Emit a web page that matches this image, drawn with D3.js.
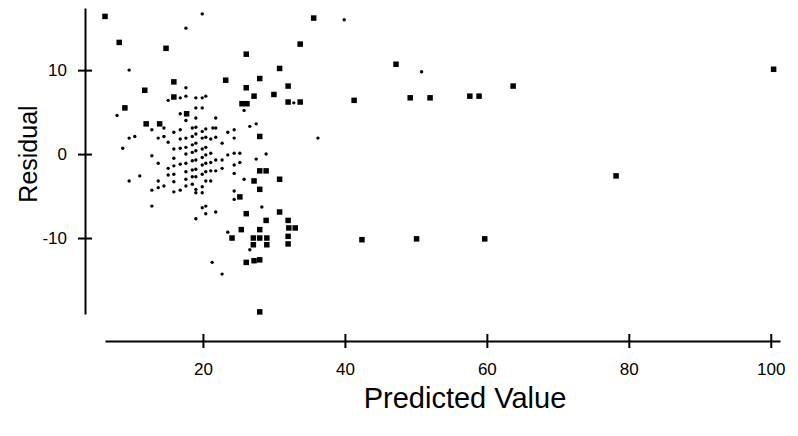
<!DOCTYPE html>
<html lang="en">
<head>
    <meta charset="UTF-8">
    <title>Residual vs Predicted Value - D3.js</title>
    <script src="https://d3js.org/d3.v7.min.js"></script>
    <style>
        body { margin: 0; background: #fff; }
        svg { font-family: "Liberation Sans", Arial, sans-serif; }
        .axis path, .axis line { stroke: #000; stroke-width: 2px; }
        .axis text { font-size: 17px; fill: #000; }
        .title { fill: #000; }
    </style>
</head>
<body>
<svg width="798" height="436"></svg>
<script>
    const width = 798;
    const height = 436;

    // tick labels
    const xTicks = [20, 40, 60, 80, 100];
    const yTicks = [-10, 0, 10];

    // large square markers [predicted, residual]
    const squarePoints = [
        [6.2, 16.4], [8.2, 13.3], [14.8, 12.6], [26.1, 11.9], [30.8, 10.2],
        [23.2, 8.8], [28.0, 9.0], [15.9, 8.6], [32.0, 8.1], [26.1, 7.9],
        [11.8, 7.6], [27.2, 6.9], [30.0, 7.1], [32.0, 6.2], [15.9, 6.8],
        [25.5, 6.0], [26.2, 6.0], [9.0, 5.5], [17.7, 4.8], [12.0, 3.6],
        [13.9, 3.6], [28.0, 2.1], [35.6, 16.2], [33.7, 13.1], [33.7, 6.2],
        [41.3, 6.4], [47.2, 10.7], [49.2, 6.7], [52.0, 6.7], [57.6, 6.9],
        [58.9, 6.9], [63.7, 8.1], [100.4, 10.1], [78.2, -2.6], [28.0, -2.0],
        [28.9, -2.0], [30.8, -3.0], [27.2, -3.2], [28.0, -4.2], [25.2, -5.1],
        [30.8, -6.9], [26.1, -7.1], [28.9, -7.9], [32.0, -7.9], [32.1, -8.8],
        [33.0, -8.8], [25.4, -9.0], [28.0, -9.0], [24.1, -10.0], [27.1, -10.0],
        [28.0, -10.0], [29.0, -10.0], [27.1, -10.8], [29.0, -10.8],
        [32.0, -9.8], [32.0, -10.7], [26.1, -12.9], [27.2, -12.7], [28.0, -12.6],
        [28.0, -18.8], [42.4, -10.2], [50.1, -10.1], [59.7, -10.1]
    ];

    // small dot markers [predicted, residual]
    const dotPoints = [
        [19.9, 16.7], [17.6, 15.0], [39.9, 16.0], [50.8, 9.8], [36.2, 1.9],
        [32.8, 6.1], [9.6, 10.0], [7.9, 4.6], [8.7, 0.7], [9.6, 1.9],
        [10.4, 2.1], [9.6, -3.2], [11.1, -2.6], [12.8, -6.2], [21.3, -12.9],
        [22.7, -14.3], [23.5, -9.3], [26.6, -11.4], [28.3, -6.3], [19.0, -7.7],
        [19.9, -6.4], [20.4, -6.2], [20.4, -7.1], [21.8, -6.9], [25.8, 5.2],
        [26.6, 3.3], [27.5, 3.6], [28.9, 0.0], [27.5, -0.6], [25.8, -3.0],
        [24.4, -4.4], [24.4, -5.4], [23.5, 2.6], [24.4, 2.9], [24.4, 1.9],
        [23.5, -0.1], [24.4, 0.1], [25.2, 0.1], [25.2, -1.0], [24.4, -1.3],
        [24.4, -2.3], [22.7, 1.3], [22.7, -0.7], [22.7, -1.7], [21.8, 4.3],
        [12.8, 2.9], [12.8, -0.2], [12.8, -4.3],
        [13.7, 1.9], [13.7, -1.1], [13.7, -3.2], [13.7, -4.0],
        [14.5, 3.1], [14.5, 2.1], [14.5, -3.8],
        [15.1, 6.4], [15.1, 1.4], [15.1, -1.7], [15.1, -2.5],
        [15.9, 2.6], [15.9, 0.6], [15.9, -0.5], [15.9, -1.4], [15.9, -2.4], [15.9, -3.3], [15.9, -4.5],
        [16.8, 6.7], [16.8, 4.8], [16.8, 2.9], [16.8, 1.8], [16.8, 0.7], [16.8, -1.2], [16.8, -4.3],
        [17.6, 7.9], [17.6, 6.9], [17.6, 4.0], [17.6, 1.9], [17.6, 0.8], [17.6, 0.0],
        [17.6, -1.1], [17.6, -2.1], [17.6, -3.0], [17.6, -3.8],
        [18.5, 3.1], [18.5, 2.1], [18.5, 1.1], [18.5, 0.2], [18.5, -0.8], [18.5, -1.9], [18.5, -2.7], [18.5, -3.6],
        [19.0, 6.7], [19.0, 5.5], [19.0, 4.3], [19.0, 3.2], [19.0, 2.4], [19.0, 1.3], [19.0, 0.4],
        [19.0, -0.7], [19.0, -1.8], [19.0, -2.7], [19.0, -4.2], [19.0, -4.6],
        [19.9, 6.7], [19.9, 5.5], [19.9, 2.7], [19.9, 1.9], [19.9, 0.6], [19.9, -0.4],
        [19.9, -1.3], [19.9, -2.4], [19.9, -3.9], [19.9, -4.6],
        [20.4, 6.9], [20.4, 3.0], [20.4, 2.0], [20.4, 0.8], [20.4, -0.1], [20.4, -1.1], [20.4, -2.1], [20.4, -3.2],
        [21.1, 1.8], [21.1, 0.1], [21.1, -1.0], [21.1, -2.0], [21.1, -3.2],
        [21.4, 3.1], [21.8, 3.1], [21.8, 2.0], [21.8, -0.7], [21.8, -2.0]
    ];

    const svg = d3.select("svg");

    svg.append("rect")
        .attr("width", width)
        .attr("height", height)
        .attr("fill", "#fff");

    const x = d3.scaleLinear()
        .domain([6.2, 101.3])
        .range([105, 780]);

    const y = d3.scaleLinear()
        .domain([-19.05, 17.4])
        .range([314, 8]);

    // plain hyphen minus, like the original
    const fmt = d => String(d);

    // y axis, ticks crossing the line
    const yAxis = svg.append("g")
        .attr("class", "axis")
        .attr("transform", "translate(85,0)")
        .call(d3.axisLeft(y).tickValues(yTicks).tickFormat(fmt)
            .tickSizeInner(7).tickSizeOuter(0).tickPadding(11));
    yAxis.selectAll(".tick line").attr("x1", 7);

    // x axis
    const xAxis = svg.append("g")
        .attr("class", "axis")
        .attr("transform", "translate(0,341)")
        .call(d3.axisBottom(x).tickValues(xTicks).tickFormat(fmt)
            .tickSizeInner(7).tickSizeOuter(0).tickPadding(15));
    xAxis.selectAll(".tick line").attr("y1", -7);

    svg.selectAll(".axis").attr("font-size", null).attr("font-family", null);

    svg.append("g")
        .selectAll("circle")
        .data(dotPoints)
        .enter().append("circle")
        .attr("cx", d => x(d[0]))
        .attr("cy", d => y(d[1]))
        .attr("r", 1.7)
        .attr("fill", "#000");

    svg.append("g")
        .selectAll("rect")
        .data(squarePoints)
        .enter().append("rect")
        .attr("x", d => x(d[0]) - 2.75)
        .attr("y", d => y(d[1]) - 2.75)
        .attr("width", 5.5)
        .attr("height", 5.5)
        .attr("fill", "#000");

    svg.append("text")
        .attr("class", "title")
        .attr("x", 465)
        .attr("y", 408)
        .attr("text-anchor", "middle")
        .attr("font-size", 29)
        .text("Predicted Value");

    svg.append("text")
        .attr("class", "title")
        .attr("transform", "translate(37,154) rotate(-90)")
        .attr("text-anchor", "middle")
        .attr("font-size", 25)
        .text("Residual");
</script>
</body>
</html>
